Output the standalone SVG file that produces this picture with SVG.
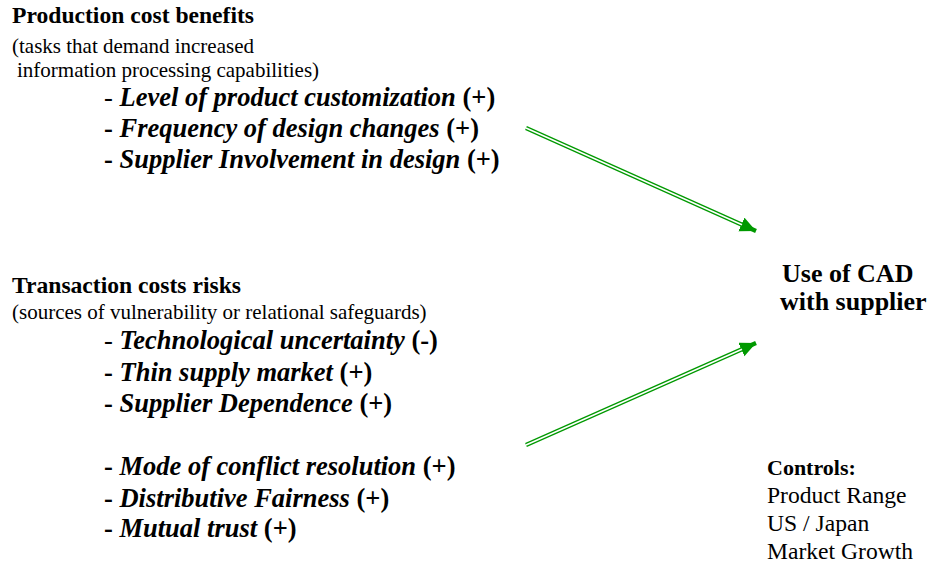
<svg xmlns="http://www.w3.org/2000/svg" width="931" height="565" viewBox="0 0 931 565">
  <style>
    text { font-family: "Liberation Serif", "Times New Roman", serif; fill: #000; }
    .head { font-size: 23.6px; font-weight: bold; }
    .sub { font-size: 21px; }
    .item { font-size: 26.5px; font-weight: bold; }
    .item .it { font-style: italic; }
    .item .plain { font-weight: normal; }
    .target { font-size: 26px; font-weight: bold; }
    .ctl { font-size: 23.6px; }
    .ctl .b { font-weight: bold; font-size: 22px; }
    .rail { fill: none; stroke: #009900; stroke-width: 4.2; }
    .gap { fill: none; stroke: #fff; stroke-width: 1.6; }
  </style>
  <defs>
    <marker id="head" markerUnits="userSpaceOnUse" markerWidth="18" markerHeight="16" refX="16" refY="7.5" orient="auto">
      <path d="M0,0 L16,7.5 L0,15 z" fill="#009900"/>
    </marker>
  </defs>

  <g id="production-cost-benefits">
    <text class="head" x="12" y="23">Production cost benefits</text>
    <text class="sub" x="12" y="53">(tasks that demand increased</text>
    <text class="sub" x="17" y="77">information processing capabilities)</text>
    <text class="item" x="104" y="106"><tspan class="plain">- </tspan><tspan class="it">Level of product customization</tspan> (+)</text>
    <text class="item" x="104" y="137">- <tspan class="it">Frequency of design changes</tspan> (+)</text>
    <text class="item" x="104" y="168">- <tspan class="it">Supplier Involvement in design</tspan> (+)</text>
  </g>

  <g id="transaction-costs-risks">
    <text class="head" x="12" y="293">Transaction costs risks</text>
    <text class="sub" x="12" y="319">(sources of vulnerability or relational safeguards)</text>
    <text class="item" x="104" y="349"><tspan class="plain">- </tspan><tspan class="it">Technological uncertainty</tspan> (-)</text>
    <text class="item" x="104" y="381">- <tspan class="it">Thin supply market</tspan> (+)</text>
    <text class="item" x="104" y="412">- <tspan class="it">Supplier Dependence</tspan> (+)</text>
    <text class="item" x="104" y="475">- <tspan class="it">Mode of conflict resolution</tspan> (+)</text>
    <text class="item" x="104" y="507">- <tspan class="it">Distributive Fairness</tspan> (+)</text>
    <text class="item" x="104" y="537">- <tspan class="it">Mutual trust</tspan> (+)</text>
  </g>

  <g id="use-of-cad">
    <text class="target" x="782" y="282">Use of CAD</text>
    <text class="target" x="780" y="310">with supplier</text>
  </g>

  <g id="controls">
    <text class="ctl" x="767" y="475"><tspan class="b">Controls:</tspan></text>
    <text class="ctl" x="767" y="503">Product Range</text>
    <text class="ctl" x="767" y="531">US / Japan</text>
    <text class="ctl" x="767" y="559">Market Growth</text>
  </g>

  <g id="connectors">
    <!-- double-rail arrows: green band with a white core, head as a marker -->
    <line class="rail" x1="526" y1="128" x2="756" y2="231" marker-end="url(#head)"/>
    <line class="gap" x1="526" y1="128" x2="742" y2="224.7"/>
    <line class="rail" x1="526" y1="445" x2="756" y2="343" marker-end="url(#head)"/>
    <line class="gap" x1="526" y1="445" x2="742" y2="349.2"/>
  </g>
</svg>
